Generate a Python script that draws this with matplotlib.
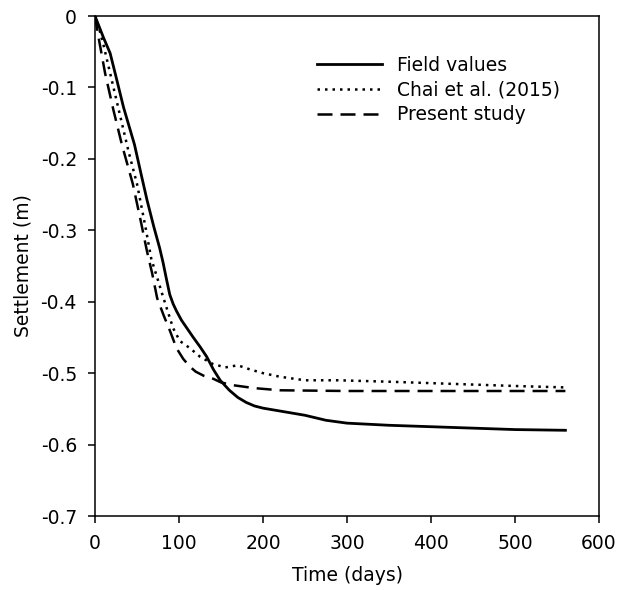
import matplotlib
matplotlib.use("Agg")
import matplotlib.pyplot as plt

plt.rcParams['font.family'] = ['DejaVu Sans']
plt.rcParams['axes.unicode_minus'] = False

# Field values
field_t = [0, 5, 10, 18, 25, 34, 47, 55, 62, 70, 77, 81, 85, 89, 93, 97, 103, 110, 117, 125, 133,
           141, 149, 160, 170, 180, 190, 200, 210, 225, 250, 275, 300, 350, 400, 450, 500, 560]
field_y = [0, -0.015, -0.03, -0.052, -0.085, -0.128, -0.18, -0.222, -0.258, -0.295, -0.325,
           -0.345, -0.368, -0.39, -0.403, -0.413, -0.426, -0.438, -0.45, -0.463, -0.477,
           -0.495, -0.51, -0.524, -0.534, -0.541, -0.546, -0.549, -0.551, -0.554, -0.559,
           -0.566, -0.57, -0.573, -0.575, -0.577, -0.579, -0.58]

# Chai et al. (2015)
chai_t = [0, 5, 10, 20, 30, 40, 50, 60, 67, 75, 81, 87, 93, 101, 113, 125, 140, 155, 170,
          185, 200, 220, 250, 290, 350, 400, 450, 500, 560]
chai_y = [0, -0.018, -0.04, -0.09, -0.14, -0.19, -0.235, -0.295, -0.34, -0.37, -0.393,
          -0.415, -0.437, -0.455, -0.465, -0.477, -0.487, -0.492, -0.489, -0.495, -0.5,
          -0.505, -0.51, -0.51, -0.512, -0.514, -0.516, -0.518, -0.52]

# Present study
present_t = [0, 5, 12, 22, 32, 45, 55, 62, 68, 74, 82, 89, 97, 105, 113, 120, 130, 141,
             150, 165, 190, 220, 300, 400, 500, 560]
present_y = [0, -0.035, -0.08, -0.132, -0.18, -0.235, -0.29, -0.33, -0.36, -0.395, -0.42,
             -0.44, -0.465, -0.48, -0.491, -0.498, -0.504, -0.508, -0.513, -0.517, -0.521,
             -0.524, -0.525, -0.525, -0.525, -0.525]

x_ticks = [0, 100, 200, 300, 400, 500, 600]
y_ticks = [0, -0.1, -0.2, -0.3, -0.4, -0.5, -0.6, -0.7]
y_tick_labels = ["0", "-0.1", "-0.2", "-0.3", "-0.4", "-0.5", "-0.6", "-0.7"]

FS = 13.5

fig = plt.figure(figsize=(6.21, 5.90), dpi=100)
ax = fig.add_axes([95/621, 74/590, 504/621, 500/590])

ax.plot(field_t, field_y, color='black', lw=2.0, solid_joinstyle='round', label='Field values')
ax.plot(chai_t, chai_y, color='black', lw=1.8, linestyle=(0, (1, 2)), label='Chai et al. (2015)')
ax.plot(present_t, present_y, color='black', lw=1.8, linestyle=(0, (6, 3.2)), label='Present study')

ax.set_xlim(0, 600)
ax.set_ylim(-0.7, 0)
ax.set_xticks(x_ticks)
ax.set_xticklabels([str(v) for v in x_ticks])
ax.set_yticks(y_ticks)
ax.set_yticklabels(y_tick_labels)
ax.tick_params(direction='out', length=5, width=1.1, labelsize=FS, colors='black', pad=8)
for s in ax.spines.values():
    s.set_linewidth(1.1)
    s.set_color('black')

ax.set_xlabel('Time (days)', fontsize=FS, labelpad=9)
ax.set_ylabel('Settlement (m)', fontsize=FS, labelpad=6)

leg = ax.legend(loc='upper left', bbox_to_anchor=(317/621, 1 - 56/590),
                bbox_transform=fig.transFigure, frameon=False, fontsize=FS,
                handlelength=3.47, handletextpad=0.8, labelspacing=0.3,
                borderpad=0, borderaxespad=0)

fig.savefig('out.png', dpi=100)
